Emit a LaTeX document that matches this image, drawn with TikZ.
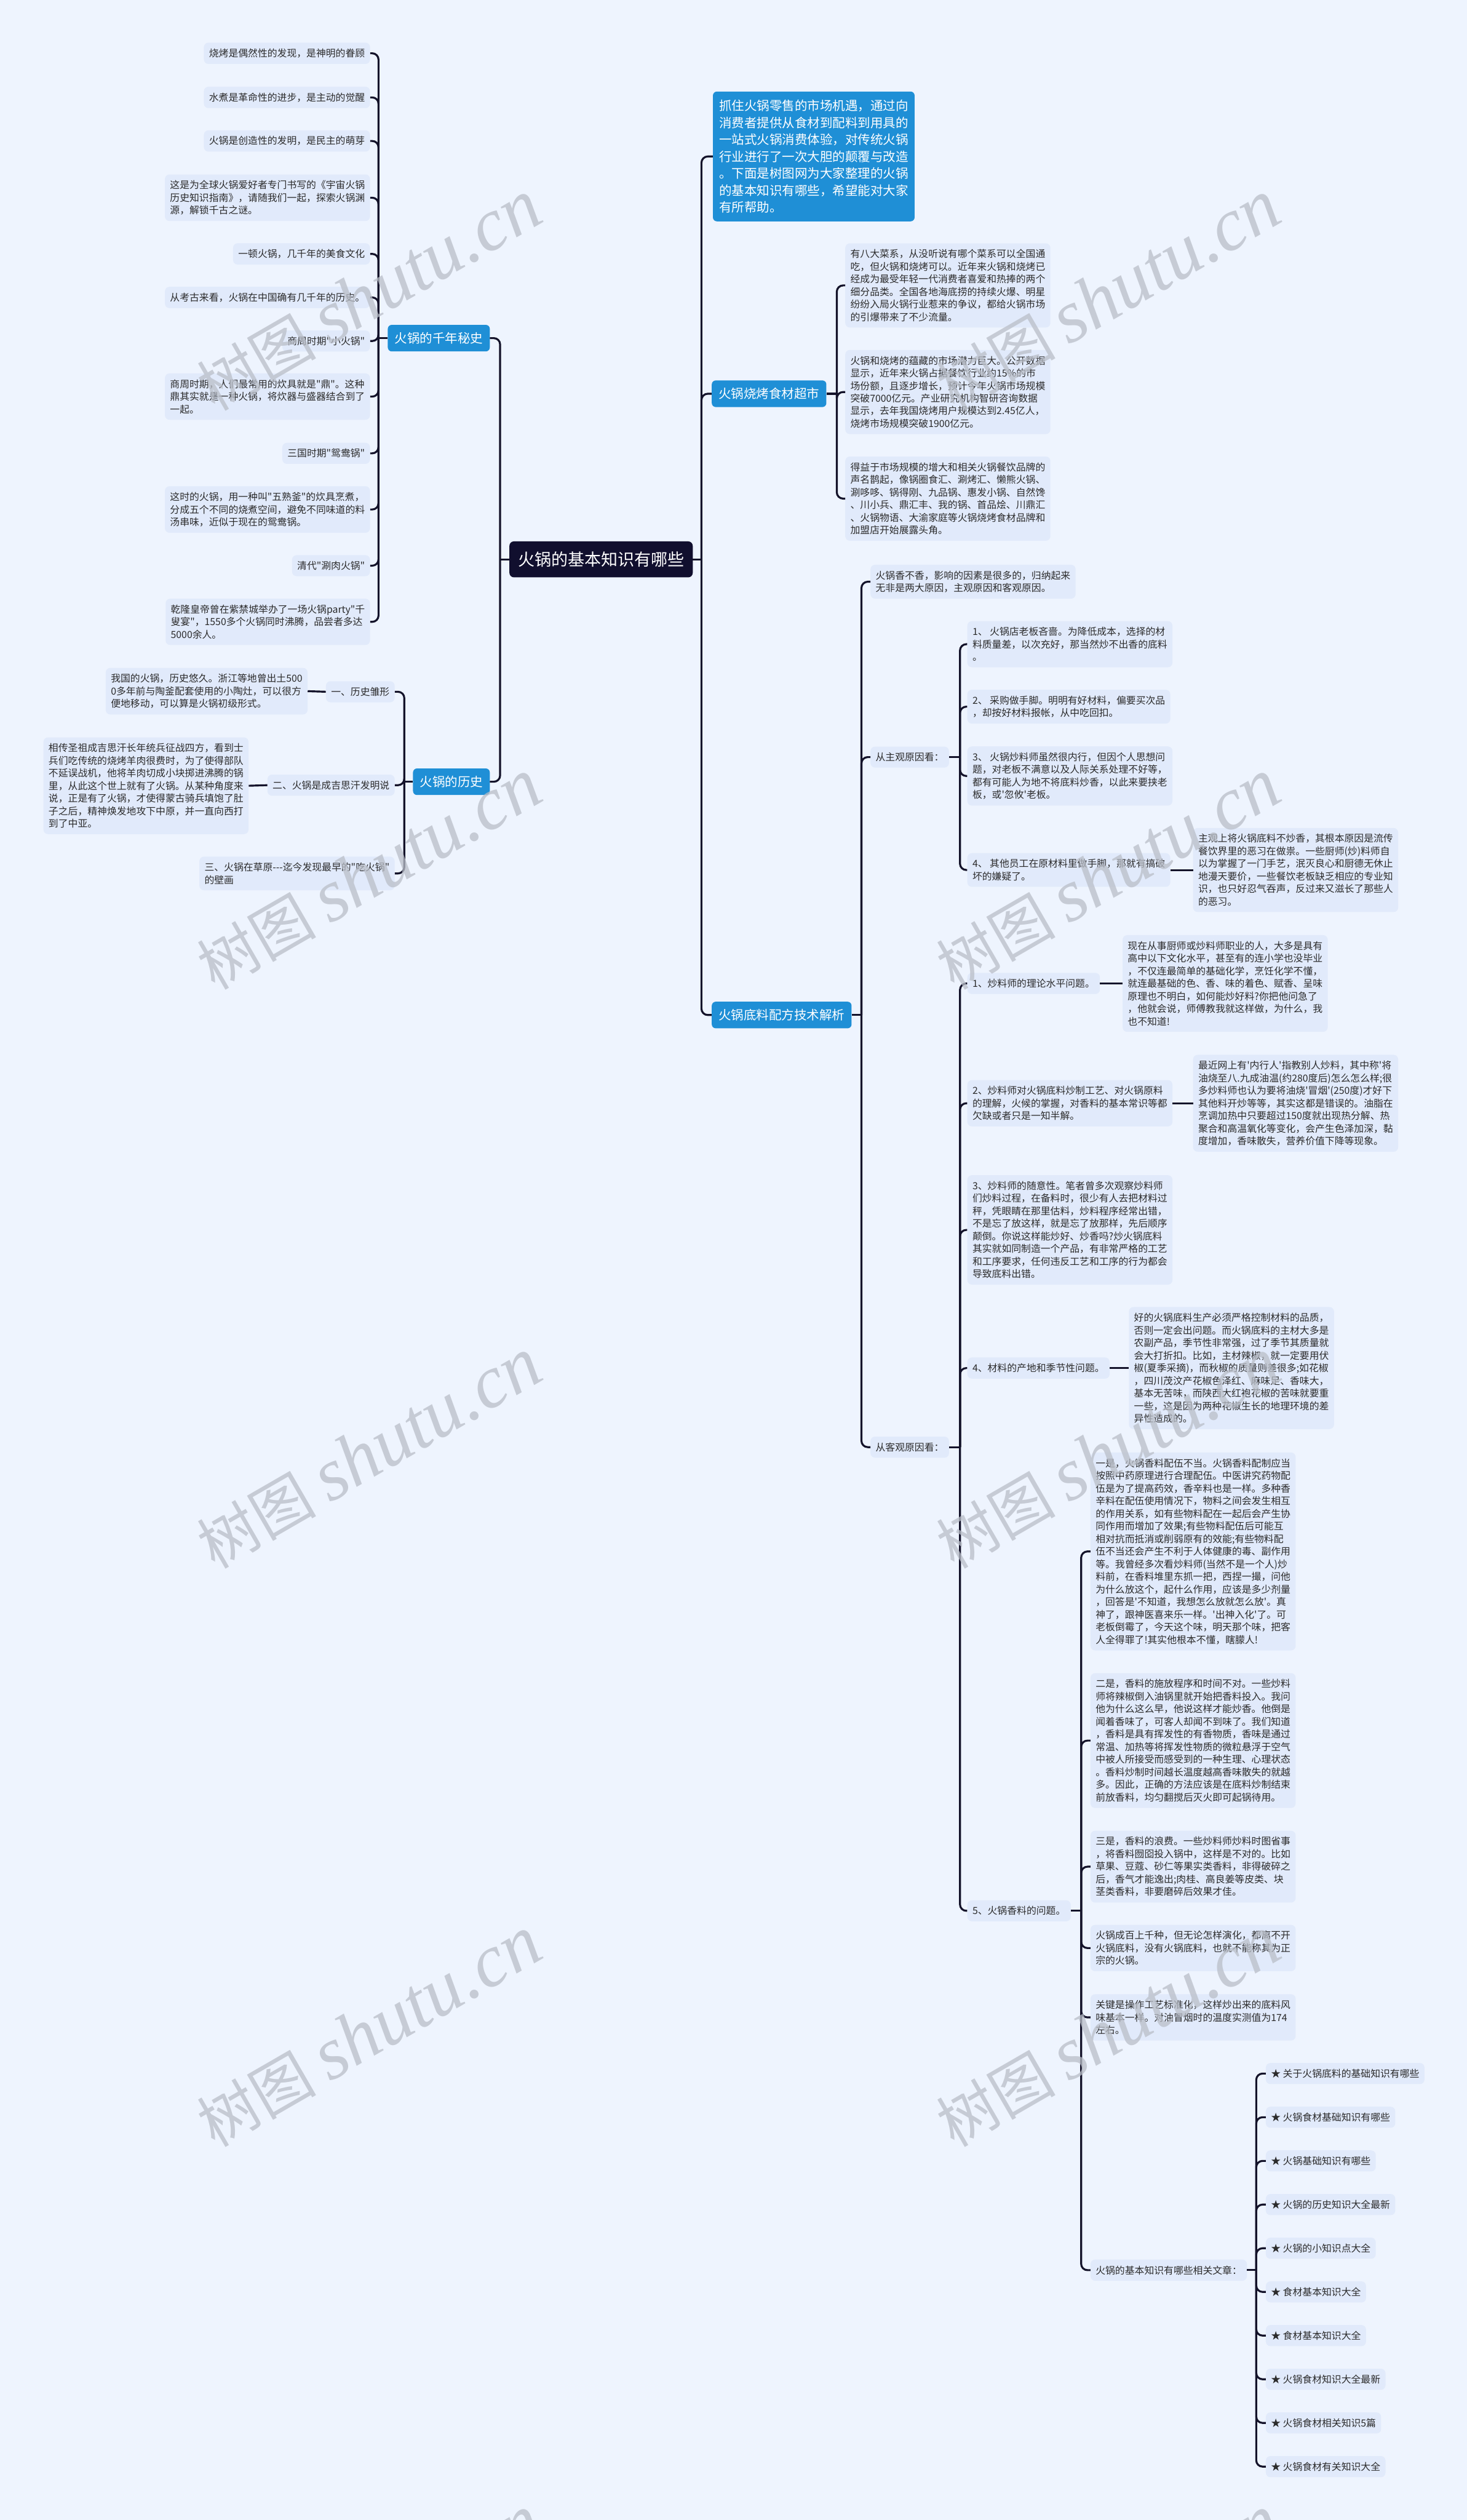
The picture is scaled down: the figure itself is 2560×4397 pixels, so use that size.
\documentclass[tikz,border=0pt]{standalone}
\usepackage{fontspec}
\setmainfont{Noto Sans CJK SC}[Ligatures=TeXOff]
\newfontfamily\wmlat{Liberation Serif}[Ligatures=TeXOff]
\usetikzlibrary{calc}
\definecolor{bgc}{HTML}{EEF4FE}
\definecolor{leafc}{HTML}{E1EAFB}
\definecolor{lvlc}{HTML}{1F8FD6}
\definecolor{rootc}{HTML}{110F2E}
\definecolor{linec}{HTML}{14132A}
\definecolor{textc}{HTML}{2B2B2B}
\definecolor{wmc}{HTML}{B9BEC8}
\newcommand\leaffont{\fontsize{17}{22}\selectfont}
\newcommand\lvlfont{\fontsize{22}{29.5}\selectfont}
\newcommand\rootfont{\fontsize{29}{34}\selectfont}
\tikzset{
 leaf/.style={fill=leafc, rounded corners=8pt, inner xsep=9pt, inner ysep=10.5pt, align=left, font=\leaffont, text=textc},
 lvl/.style={fill=lvlc, rounded corners=7pt, inner xsep=12pt, inner ysep=13pt, align=left, font=\lvlfont, text=white},
 rootbox/.style={fill=rootc, rounded corners=8pt, inner xsep=15pt, inner ysep=18pt, font=\rootfont, text=white},
 conn/.style={draw=linec, line width=3.4pt, rounded corners=11pt},
 wm/.style={text=wmc, opacity=0.75, font=\fontsize{104}{110}\selectfont, inner sep=0pt},
}
\begin{document}
\begin{tikzpicture}[x=1pt,y=-1pt]
\useasboundingbox (0,0) rectangle (2560,4397);
\fill[bgc] (0,0) rectangle (2560,4397);

% root and level 1
\node[rootbox] (root) at (1049,976) {火锅的基本知识有哪些};
\node[lvl, anchor=east] (qian) at (855,590) {火锅的千年秘史};
\node[lvl, anchor=east] (lishi) at (855,1364) {火锅的历史};
\node[lvl, anchor=west, inner xsep=11pt, inner ysep=14.5pt] (intro) at (1244,273) {抓住火锅零售的市场机遇，通过向\\消费者提供从食材到配料到用具的\\一站式火锅消费体验，对传统火锅\\行业进行了一次大胆的颠覆与改造\\。下面是树图网为大家整理的火锅\\的基本知识有哪些，希望能对大家\\有所帮助。};
\node[lvl, anchor=west] (shaokao) at (1242,687) {火锅烧烤食材超市};
\node[lvl, anchor=west] (diliao) at (1242,1771) {火锅底料配方技术解析};

% left top
\node[leaf, anchor=east] (lt1) at (646,93) {烧烤是偶然性的发现，是神明的眷顾};
\node[leaf, anchor=east] (lt2) at (646,170) {水煮是革命性的进步，是主动的觉醒};
\node[leaf, anchor=east] (lt3) at (646,246) {火锅是创造性的发明，是民主的萌芽};
\node[leaf, anchor=east] (lt4) at (646,345) {这是为全球火锅爱好者专门书写的《宇宙火锅\\历史知识指南》，请随我们一起，探索火锅渊\\源，解锁千古之谜。};
\node[leaf, anchor=east] (lt5) at (646,443) {一顿火锅，几千年的美食文化};
\node[leaf, anchor=east] (lt6) at (646,519) {从考古来看，火锅在中国确有几千年的历史。};
\node[leaf, anchor=east] (lt7) at (646,595) {商周时期"小火锅"};
\node[leaf, anchor=east] (lt8) at (646,692) {商周时期，人们最常用的炊具就是"鼎"。这种\\鼎其实就是一种火锅，将炊器与盛器结合到了\\一起。};
\node[leaf, anchor=east] (lt9) at (646,791) {三国时期"鸳鸯锅"};
\node[leaf, anchor=east] (lt10) at (646,889) {这时的火锅，用一种叫"五熟釜"的炊具烹煮，\\分成五个不同的烧煮空间，避免不同味道的料\\汤串味，近似于现在的鸳鸯锅。};
\node[leaf, anchor=east] (lt11) at (646,987) {清代"涮肉火锅"};
\node[leaf, anchor=east] (lt12) at (646,1085) {乾隆皇帝曾在紫禁城举办了一场火锅party"千\\叟宴"，1550多个火锅同时沸腾，品尝者多达\\5000余人。};

% left bottom
\node[leaf, anchor=east] (lb1) at (689,1207) {一、历史雏形};
\node[leaf, anchor=east] (lb2) at (689,1370) {二、火锅是成吉思汗发明说};
\node[leaf, anchor=east] (lb3) at (689,1524) {三、火锅在草原---迄今发现最早的"吃火锅"\\的壁画};
\node[leaf, anchor=east] (lbx1) at (537,1206) {我国的火锅，历史悠久。浙江等地曾出土500\\0多年前与陶釜配套使用的小陶灶，可以很方\\便地移动，可以算是火锅初级形式。};
\node[leaf, anchor=east] (lbx2) at (434,1371) {相传圣祖成吉思汗长年统兵征战四方，看到士\\兵们吃传统的烧烤羊肉很费时，为了使得部队\\不延误战机，他将羊肉切成小块掷进沸腾的锅\\里，从此这个世上就有了火锅。从某种角度来\\说，正是有了火锅，才使得蒙古骑兵填饱了肚\\子之后，精神焕发地攻下中原，并一直向西打\\到了中亚。};

% shaokao children
\node[leaf, anchor=west] (sk1) at (1475,498) {有八大菜系，从没听说有哪个菜系可以全国通\\吃，但火锅和烧烤可以。近年来火锅和烧烤已\\经成为最受年轻一代消费者喜爱和热捧的两个\\细分品类。全国各地海底捞的持续火爆、明星\\纷纷入局火锅行业惹来的争议，都给火锅市场\\的引爆带来了不少流量。};
\node[leaf, anchor=west] (sk2) at (1475,684) {火锅和烧烤的蕴藏的市场潜力巨大。公开数据\\显示，近年来火锅占据餐饮行业约15\%的市\\场份额，且逐步增长，预计今年火锅市场规模\\突破7000亿元。产业研究机构智研咨询数据\\显示，去年我国烧烤用户规模达到2.45亿人，\\烧烤市场规模突破1900亿元。};
\node[leaf, anchor=west] (sk3) at (1475,870) {得益于市场规模的增大和相关火锅餐饮品牌的\\声名鹊起，像锅圈食汇、涮烤汇、懒熊火锅、\\涮哆哆、锅得刚、九品锅、惠发小锅、自然馋\\、川小兵、鼎汇丰、我的锅、首品烩、川鼎汇\\、火锅物语、大渝家庭等火锅烧烤食材品牌和\\加盟店开始展露头角。};

% diliao children
\node[leaf, anchor=west] (xiang) at (1519,1015) {火锅香不香，影响的因素是很多的，归纳起来\\无非是两大原因，主观原因和客观原因。};
\node[leaf, anchor=west] (zhu) at (1519,1321) {从主观原因看：};
\node[leaf, anchor=west] (ke) at (1519,2525) {从客观原因看：};

\node[leaf, anchor=west] (z1) at (1688,1124) {1、 火锅店老板吝啬。为降低成本，选择的材\\料质量差，以次充好，那当然炒不出香的底料\\。};
\node[leaf, anchor=west] (z2) at (1688,1233) {2、 采购做手脚。明明有好材料，偏要买次品\\，却按好材料报帐，从中吃回扣。};
\node[leaf, anchor=west] (z3) at (1688,1354) {3、 火锅炒料师虽然很内行，但因个人思想问\\题，对老板不满意以及人际关系处理不好等，\\都有可能人为地不将底料炒香，以此来要挟老\\板，或'忽攸'老板。};
\node[leaf, anchor=west] (z4) at (1688,1518) {4、 其他员工在原材料里做手脚，那就有搞破\\坏的嫌疑了。};
\node[leaf, anchor=west] (z4c) at (2082,1518) {主观上将火锅底料不炒香，其根本原因是流传\\餐饮界里的恶习在做祟。一些厨师(炒)料师自\\以为掌握了一门手艺，泯灭良心和厨德无休止\\地漫天要价，一些餐饮老板缺乏相应的专业知\\识，也只好忍气吞声，反过来又滋长了那些人\\的恶习。};

\node[leaf, anchor=west] (k1) at (1688,1716) {1、炒料师的理论水平问题。};
\node[leaf, anchor=west] (k1c) at (1959,1716) {现在从事厨师或炒料师职业的人，大多是具有\\高中以下文化水平，甚至有的连小学也没毕业\\，不仅连最简单的基础化学，烹饪化学不懂，\\就连最基础的色、香、味的着色、赋香、呈味\\原理也不明白，如何能炒好料?你把他问急了\\，他就会说，师傅教我就这样做，为什么，我\\也不知道!};
\node[leaf, anchor=west] (k2) at (1688,1925) {2、炒料师对火锅底料炒制工艺、对火锅原料\\的理解，火候的掌握，对香料的基本常识等都\\欠缺或者只是一知半解。};
\node[leaf, anchor=west] (k2c) at (2082,1925) {最近网上有'内行人'指教别人炒料，其中称'将\\油烧至八.九成油温(约280度后)怎么怎么样;很\\多炒料师也认为要将油烧'冒烟'(250度)才好下\\其他料开炒等等，其实这都是错误的。油脂在\\烹调加热中只要超过150度就出现热分解、热\\聚合和高温氧化等变化，会产生色泽加深，黏\\度增加，香味散失，营养价值下降等现象。};
\node[leaf, anchor=west] (k3) at (1688,2146) {3、炒料师的随意性。笔者曾多次观察炒料师\\们炒料过程，在备料时，很少有人去把材料过\\秤，凭眼睛在那里估料，炒料程序经常出错，\\不是忘了放这样，就是忘了放那样，先后顺序\\颠倒。你说这样能炒好、炒香吗?炒火锅底料\\其实就如同制造一个产品，有非常严格的工艺\\和工序要求，任何违反工艺和工序的行为都会\\导致底料出错。};
\node[leaf, anchor=west] (k4) at (1688,2387) {4、材料的产地和季节性问题。};
\node[leaf, anchor=west] (k4c) at (1970,2387) {好的火锅底料生产必须严格控制材料的品质，\\否则一定会出问题。而火锅底料的主材大多是\\农副产品，季节性非常强，过了季节其质量就\\会大打折扣。比如，主材辣椒，就一定要用伏\\椒(夏季采摘)，而秋椒的质量则差很多;如花椒\\，四川茂汶产花椒色泽红、麻味足、香味大，\\基本无苦味，而陕西大红袍花椒的苦味就要重\\一些，这是因为两种花椒生长的地理环境的差\\异性造成的。};
\node[leaf, anchor=west] (k5) at (1688,3334) {5、火锅香料的问题。};

\node[leaf, anchor=west] (f1) at (1903,2707) {一是，火锅香料配伍不当。火锅香料配制应当\\按照中药原理进行合理配伍。中医讲究药物配\\伍是为了提高药效，香辛料也是一样。多种香\\辛料在配伍使用情况下，物料之间会发生相互\\的作用关系，如有些物料配在一起后会产生协\\同作用而增加了效果;有些物料配伍后可能互\\相对抗而抵消或削弱原有的效能;有些物料配\\伍不当还会产生不利于人体健康的毒、副作用\\等。我曾经多次看炒料师(当然不是一个人)炒\\料前，在香料堆里东抓一把，西捏一撮，问他\\为什么放这个，起什么作用，应该是多少剂量\\，回答是'不知道，我想怎么放就怎么放'。真\\神了，跟神医喜来乐一样。'出神入化'了。可\\老板倒霉了，今天这个味，明天那个味，把客\\人全得罪了!其实他根本不懂，瞎朦人!};
\node[leaf, anchor=west] (f2) at (1903,3037) {二是，香料的施放程序和时间不对。一些炒料\\师将辣椒倒入油锅里就开始把香料投入。我问\\他为什么这么早，他说这样才能炒香。他倒是\\闻着香味了，可客人却闻不到味了。我们知道\\，香料是具有挥发性的有香物质，香味是通过\\常温、加热等将挥发性物质的微粒悬浮于空气\\中被人所接受而感受到的一种生理、心理状态\\。香料炒制时间越长温度越高香味散失的就越\\多。因此，正确的方法应该是在底料炒制结束\\前放香料，均匀翻搅后灭火即可起锅待用。};
\node[leaf, anchor=west] (f3) at (1903,3257) {三是，香料的浪费。一些炒料师炒料时图省事\\，将香料囫囵投入锅中，这样是不对的。比如\\草果、豆蔻、砂仁等果实类香料，非得破碎之\\后，香气才能逸出;肉桂、高良姜等皮类、块\\茎类香料，非要磨碎后效果才佳。};
\node[leaf, anchor=west] (f4) at (1903,3399) {火锅成百上千种，但无论怎样演化，都离不开\\火锅底料，没有火锅底料，也就不能称其为正\\宗的火锅。};
\node[leaf, anchor=west] (f5) at (1903,3520) {关键是操作工艺标准化，这样炒出来的底料风\\味基本一样。对油冒烟时的温度实测值为174\\左右。};
\node[leaf, anchor=west] (rel) at (1903,3961) {火锅的基本知识有哪些相关文章：};

\foreach \t [count=\i] in {关于火锅底料的基础知识有哪些,火锅食材基础知识有哪些,火锅基础知识有哪些,火锅的历史知识大全最新,火锅的小知识点大全,食材基本知识大全,食材基本知识大全,火锅食材知识大全最新,火锅食材相关知识5篇,火锅食材有关知识大全}
  \node[leaf, anchor=west] (r\i) at (2209,{3618+76.2*(\i-1)}) {★ \t};

% connectors
\coordinate (jRL) at ([xshift=-16pt]root.west);
\draw[conn] (root.west) -- (jRL);
\foreach \c in {qian,lishi} \draw[conn] (jRL) |- (\c.east);
\coordinate (jRR) at ([xshift=15pt]root.east);
\draw[conn] (root.east) -- (jRR);
\foreach \c in {intro,shaokao,diliao} \draw[conn] (jRR) |- (\c.west);

\coordinate (jQ) at ([xshift=-16pt]qian.west);
\draw[conn] (qian.west) -- (jQ);
\foreach \c in {lt1,lt2,lt3,lt4,lt5,lt6,lt7,lt8,lt9,lt10,lt11,lt12} \draw[conn] (jQ) |- (\c.east);

\coordinate (jL) at ([xshift=-15pt]lishi.west);
\draw[conn] (lishi.west) -- (jL);
\foreach \c in {lb1,lb2,lb3} \draw[conn] (jL) |- (\c.east);
\draw[conn] (lb1.west) -- (lbx1.east);
\draw[conn] (lb2.west) -- (lbx2.east);

\coordinate (jS) at ([xshift=18pt]shaokao.east);
\draw[conn] (shaokao.east) -- (jS);
\foreach \c in {sk1,sk2,sk3} \draw[conn] (jS) |- (\c.west);

\coordinate (jD) at ([xshift=17pt]diliao.east);
\draw[conn] (diliao.east) -- (jD);
\foreach \c in {xiang,zhu,ke} \draw[conn] (jD) |- (\c.west);

\coordinate (jZ) at ([xshift=19pt]zhu.east);
\draw[conn] (zhu.east) -- (jZ);
\foreach \c in {z1,z2,z3,z4} \draw[conn] (jZ) |- (\c.west);
\draw[conn] (z4.east) -- (z4c.west);

\coordinate (jK) at ([xshift=19pt]ke.east);
\draw[conn] (ke.east) -- (jK);
\foreach \c in {k1,k2,k3,k4,k5} \draw[conn] (jK) |- (\c.west);
\draw[conn] (k1.east) -- (k1c.west);
\draw[conn] (k2.east) -- (k2c.west);
\draw[conn] (k4.east) -- (k4c.west);

\coordinate (jF) at ([xshift=18pt]k5.east);
\draw[conn] (k5.east) -- (jF);
\foreach \c in {f1,f2,f3,f4,f5,rel} \draw[conn] (jF) |- (\c.west);

\coordinate (jR) at ([xshift=16pt]rel.east);
\draw[conn] (rel.east) -- (jR);
\foreach \i in {1,...,10} \draw[conn] (jR) |- (r\i.west);

% watermarks
\begin{scope}
\clip (0,0) rectangle (2560,4397);
\foreach \yy in {516,1526,2536,3546,4556}
  \foreach \xx in {644,1934}
    \node[wm, rotate=30] at (\xx,\yy) {树图 {\wmlat\itshape\fontsize{130}{136}\selectfont shutu.cn}};
\end{scope}
\end{tikzpicture}
\end{document}
